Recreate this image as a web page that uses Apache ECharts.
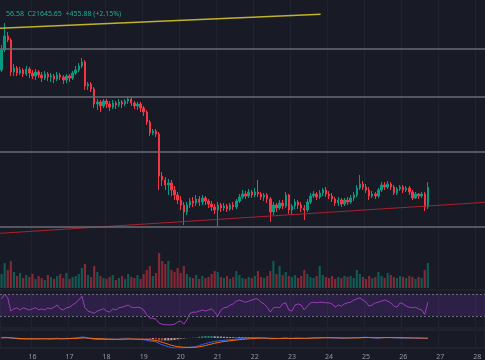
<!DOCTYPE html>
<html><head><meta charset="utf-8">
<script src="https://cdn.jsdelivr.net/npm/echarts@6/dist/echarts.min.js"></script>
<style>html,body{margin:0;padding:0;background:#181b26;}#c{width:485px;height:360px;}</style>
</head><body><div id="c"></div>
<script>
const headerText = '56.58  C21645.65  +455.88 (+2.15%)';
const dayLabels = ['16','17','18','19','20','21','22','23','24','25','26','27','28'];
const startDay = 15, startHour = 4, stepHours = 2, slotCount = 157;

const opens = [22820,23020,23160,23120,22800,22840,22790,22820,22780,22830,
22790,22760,22800,22770,22740,22780,22750,22760,22730,22770,
22750,22720,22760,22740,22790,22820,22860,22900,22660,22680,
22630,22480,22500,22460,22510,22480,22450,22490,22470,22500,
22480,22510,22530,22490,22460,22480,22440,22400,22300,22190,
22210,22180,21760,21720,21670,21690,21620,21570,21520,21470,
21400,21470,21510,21490,21530,21500,21540,21510,21480,21450,
21420,21470,21440,21460,21430,21470,21450,21510,21550,21580,
21560,21600,21570,21600,21580,21550,21570,21530,21400,21470,
21440,21490,21460,21570,21420,21460,21500,21470,21440,21420,
21500,21560,21580,21550,21590,21620,21580,21560,21530,21490,
21520,21480,21520,21500,21540,21570,21640,21680,21650,21620,
21560,21580,21560,21620,21670,21650,21680,21650,21590,21630,
21650,21620,21640,21600,21540,21580,21560,21580,21450];
const closes = [23020,23160,23120,22800,22840,22790,22820,22780,22830,22790,
22760,22800,22770,22740,22780,22750,22760,22730,22770,22750,
22720,22760,22740,22790,22820,22860,22900,22660,22680,22630,
22480,22500,22460,22510,22480,22450,22490,22470,22500,22480,
22510,22530,22490,22460,22480,22440,22400,22300,22190,22210,
22180,21760,21720,21670,21690,21620,21570,21520,21470,21400,
21470,21510,21490,21530,21500,21540,21510,21480,21450,21420,
21470,21440,21460,21430,21470,21450,21510,21550,21580,21560,
21600,21570,21600,21580,21550,21570,21530,21400,21470,21440,
21490,21460,21570,21420,21460,21500,21470,21440,21420,21500,
21560,21580,21550,21590,21620,21580,21560,21530,21490,21520,
21480,21520,21500,21540,21570,21640,21680,21650,21620,21560,
21580,21560,21620,21670,21650,21680,21650,21590,21630,21650,
21620,21640,21600,21540,21580,21560,21580,21450,21645.65];
const lows = [22800,23000,23100,22760,22760,22760,22770,22750,22760,22740,
22730,22720,22740,22700,22720,22710,22700,22690,22710,22720,
22680,22690,22700,22720,22770,22800,22840,22620,22620,22600,
22440,22420,22400,22440,22440,22410,22430,22430,22450,22440,
22460,22480,22460,22430,22420,22400,22360,22270,22160,22170,
22150,21620,21660,21620,21570,21560,21520,21480,21420,21270,
21370,21440,21450,21460,21460,21470,21470,21440,21410,21380,
21250,21400,21410,21400,21410,21420,21430,21490,21530,21530,
21540,21540,21550,21550,21520,21510,21490,21300,21370,21400,
21420,21430,21440,21380,21370,21430,21430,21400,21320,21400,
21480,21540,21520,21530,21560,21550,21530,21500,21460,21460,
21450,21460,21470,21480,21510,21550,21620,21620,21590,21520,
21540,21530,21540,21600,21620,21630,21620,21570,21570,21610,
21590,21600,21570,21520,21530,21530,21540,21410,21430];
const highs = [23070,23290,23200,23140,22880,22860,22850,22840,22860,22850,
22820,22830,22820,22800,22810,22800,22790,22780,22800,22790,
22770,22780,22780,22810,22860,22890,22940,22920,22700,22700,
22650,22530,22520,22530,22530,22510,22520,22510,22530,22520,
22530,22550,22550,22510,22500,22500,22460,22420,22320,22230,
22230,22200,21800,21750,21730,21720,21660,21600,21560,21500,
21500,21540,21550,21570,21560,21570,21560,21530,21510,21480,
21500,21490,21490,21480,21490,21500,21530,21580,21620,21610,
21630,21620,21640,21720,21600,21590,21590,21550,21500,21490,
21520,21520,21600,21580,21480,21530,21520,21500,21470,21530,
21590,21610,21600,21620,21640,21650,21610,21590,21550,21550,
21540,21540,21550,21570,21600,21670,21770,21710,21680,21650,
21610,21600,21640,21700,21700,21710,21700,21670,21650,21670,
21670,21660,21660,21620,21600,21590,21600,21600,21700];
const volumes = [1400,2500,1800,2700,1600,1200,1500,1000,1300,1100,
1400,900,1200,1000,800,1300,1100,900,1200,1400,
1000,1500,900,1100,1200,1400,2000,2400,1300,1100,
2200,1600,1200,1000,900,1100,1300,800,1000,1200,
900,1400,1100,1000,1300,900,1400,1800,2200,1200,
1500,3500,2700,2400,2700,1800,1600,2000,1500,2200,
1400,1100,1000,1300,900,1200,1000,1100,1400,1700,
1600,1100,1000,1200,900,1100,1700,1300,1000,900,
1100,1000,1200,1700,1100,1000,1200,1700,2700,1400,
2200,1300,1600,1200,1100,1300,1000,1200,1800,1400,
1100,1000,1200,2200,1300,1100,1000,1200,900,1100,
1000,1200,1100,1200,1000,1800,1400,1100,900,1200,
1000,1100,1600,1200,1000,1500,1300,1100,1000,1200,
1100,1000,1200,1100,900,1100,1000,1800,2500];
const rsi = [61,70,63,39,43,45,41,45,43,41,
43,45,41,43,41,45,43,46,50,43,
41,45,46,50,54,59,66,45,39,37,
35,39,41,43,39,37,43,41,45,46,
48,50,46,45,46,45,41,32,26,26,
24,17,15,14,14,14,15,19,21,15,
23,35,37,37,39,41,39,41,43,37,
30,41,45,46,50,52,57,59,57,55,
57,59,61,61,55,52,46,37,45,46,
45,52,54,41,39,50,52,50,41,48,
54,55,54,55,55,54,54,52,46,50,
48,52,54,55,59,61,63,59,55,48,
50,54,55,57,59,57,54,48,46,54,
52,48,46,45,46,43,41,33,55];
const macd = [10,15,10,0,
-10,-15,-20,-20,-20,-20,-20,
-20,-20,-15,-15,-20,-20,-15,-10,-15,-15,-10,-10,-5,0,10,
20,15,
-5,-15,-25,-30,-30,-30,-30,-30,-30,-25,-25,-20,-20,-15,-20,-25,-25,-30,
-35,-45,-60,-65,-75,
-110,-135,-155,-175,-190,-200,-200,
-195,-195,-190,-185,-180,-175,
-150,-130,-110,-95,-80,-70,
-60,-50,-45,-40,-35,-30,-20,-15,
-10,-5,0,0,5,5,0,0,-5,-15,
-15,-10,-10,-5,0,-10,-10,-5,-5,-5,
-10,-5,0,5,5,5,10,10,5,5,
0,0,-5,-5,0,0,5,5,10,15,
15,10,5,0,0,5,10,10,10,5,
5,0,0,0,0,0,-5,-5,-5,-10,
-5];
const signal = [0,5,5,5,
0,-5,-10,-12,-15,-15,-15,
-15,-15,-15,-15,-15,-15,-15,-15,-15,-15,-15,-12,-10,-8,-5,
0,2,
0,-5,-10,-15,-18,-20,-22,-24,-25,-25,-25,-24,-22,-20,-20,-21,-22,-24,
-26,-30,-36,-42,-50,
-65,-85,-105,-125,-145,-160,-172,
-180,-185,-187,-188,-186,-183,
-175,-165,-150,-135,-120,-105,
-92,-80,-70,-62,-55,-48,-40,-34,
-28,-22,-16,-12,-8,-5,-3,-2,-3,-5,
-8,-9,-9,-8,-6,-7,-7,-7,-6,-6,
-7,-6,-5,-3,-1,0,2,4,5,5,
4,3,2,1,1,1,2,2,4,6,
8,9,8,6,5,5,6,7,8,8,
7,6,5,4,3,2,1,0,-1,-3,
-3];
const levels = [23030, 22550, 22000, 21250];
const yellowTrend = [[-0.5, 23237], [103.3, 23377]];
const redTrend = [[-0.5, 21187], [156.5, 21497]];

const UP = '#089981', DOWN = '#f23645';
const slots = [];
for (let i = 0; i < slotCount; i++) {
  const h = startHour + stepHours * i;
  const d = startDay + Math.floor(h / 24);
  slots.push(d + ' ' + String(h % 24).padStart(2, '0') + ':00');
}
const isDayStart = (idx, val) => {
  const p = val.split(' ');
  return p[1] === '00:00' && dayLabels.indexOf(p[0]) >= 0;
};
const candles = opens.map((o, i) => [o, closes[i], lows[i], highs[i]]);
const volData = volumes.map((v, i) => ({
  value: v,
  itemStyle: { color: closes[i] >= opens[i] ? 'rgba(8,153,129,0.5)' : 'rgba(242,54,69,0.5)' }
}));
const histData = macd.map((m, i) => {
  const h = m - signal[i];
  const prev = i > 0 ? macd[i - 1] - signal[i - 1] : h;
  let c;
  if (h >= 0) c = h >= prev ? '#26a69a' : '#b2dfdb';
  else c = h < prev ? '#ff5252' : '#ffcdd2';
  return { value: h, itemStyle: { color: c, opacity: 0.7 } };
});

const split = { show: true, interval: isDayStart, lineStyle: { color: '#1f232e', width: 1 } };
const mkX = (g, showLabel) => ({
  type: 'category', gridIndex: g, data: slots, boundaryGap: true,
  axisLine: { show: false }, axisTick: { show: false },
  axisLabel: { show: showLabel, interval: isDayStart, formatter: v => v.split(' ')[0],
    color: '#9598a1', fontSize: 7, margin: 5, fontFamily: 'Noto Sans' },
  splitLine: g === 1 ? { show: false } : split
});

const chart = echarts.init(document.getElementById('c'), null, { renderer: 'canvas' });
chart.setOption({
  animation: false,
  backgroundColor: '#181b26',
  title: { text: headerText, left: 1, top: 5,
    textStyle: { color: '#22ab94', fontSize: 7, fontWeight: 'normal', fontFamily: 'Noto Sans' } },
  grid: [
    { left: 0, right: 0, top: 0, height: 288 },
    { left: 0, right: 0, top: 250, height: 38 },
    { left: 0, right: 0, top: 290, height: 38, show: true, borderColor: '#262a35', borderWidth: 1, backgroundColor: 'transparent' },
    { left: 0, right: 0, top: 330, height: 18, show: true, borderColor: '#262a35', borderWidth: 1, backgroundColor: 'transparent' }
  ],
  xAxis: [mkX(0, false), mkX(1, false), mkX(2, false), mkX(3, true),
    { type: 'value', gridIndex: 0, min: -0.5, max: slotCount - 0.5, show: false }],
  yAxis: [
    { type: 'value', gridIndex: 0, min: 20640, max: 23520, show: false, splitLine: { show: false } },
    { type: 'value', gridIndex: 1, min: 0, max: 3800, show: false, splitLine: { show: false } },
    { type: 'value', gridIndex: 2, min: 8.2, max: 77.3, show: false, splitLine: { show: false } },
    { type: 'value', gridIndex: 3, min: -200, max: 160, show: false, splitLine: { show: false } }
  ],
  series: [
    { type: 'bar', xAxisIndex: 1, yAxisIndex: 1, data: volData, barWidth: '70%', silent: true },
    { type: 'candlestick', xAxisIndex: 0, yAxisIndex: 0, data: candles, barWidth: '62%',
      itemStyle: { color: UP, color0: DOWN, borderColor: UP, borderColor0: DOWN, borderWidth: 1 },
      markLine: { silent: true, symbol: 'none', label: { show: false },
        lineStyle: { color: '#686b76', width: 1.5, type: 'solid' },
        data: levels.map(v => ({ yAxis: v })) } },
    { type: 'line', xAxisIndex: 4, yAxisIndex: 0, data: yellowTrend, symbol: 'none', silent: true,
      lineStyle: { color: '#c2b12c', width: 1.5 } },
    { type: 'line', xAxisIndex: 4, yAxisIndex: 0, data: redTrend, symbol: 'none', silent: true,
      lineStyle: { color: '#a8232f', width: 1 } },
    { type: 'line', xAxisIndex: 2, yAxisIndex: 2, data: rsi, symbol: 'none', silent: true,
      lineStyle: { color: '#9a3db8', width: 1 },
      markArea: { silent: true, itemStyle: { color: 'rgba(120,50,190,0.22)' },
        data: [[{ yAxis: 30 }, { yAxis: 70 }]] },
      markLine: { silent: true, symbol: 'none', label: { show: false },
        lineStyle: { color: '#6e6a80', width: 1, type: [2, 2] },
        data: [{ yAxis: 70 }, { yAxis: 30 }] } },
    { type: 'bar', xAxisIndex: 3, yAxisIndex: 3, data: histData, barWidth: '70%', silent: true },
    { type: 'line', xAxisIndex: 3, yAxisIndex: 3, data: macd, symbol: 'none', silent: true,
      lineStyle: { color: '#2962ff', width: 1 } },
    { type: 'line', xAxisIndex: 3, yAxisIndex: 3, data: signal, symbol: 'none', silent: true,
      lineStyle: { color: '#ff6d00', width: 1 } }
  ]
});
</script></body></html>
